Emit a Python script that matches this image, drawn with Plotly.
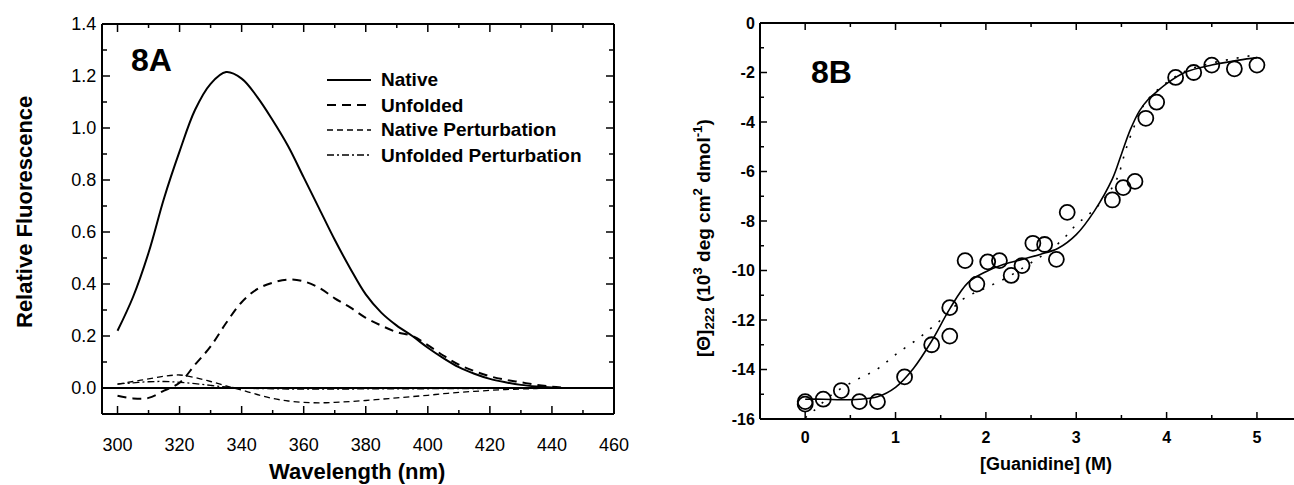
import plotly.graph_objects as go

# ---------------- Panel 8A data ----------------
wavelength = [300, 305, 310, 315, 320, 325, 330, 335, 340, 345, 350, 355, 360, 365, 370,
              375, 380, 385, 390, 395, 400, 405, 410, 415, 420, 425, 430, 435, 440, 445]
native = [0.22, 0.35, 0.52, 0.73, 0.91, 1.07, 1.17, 1.215, 1.19, 1.12, 1.03, 0.93, 0.81, 0.69, 0.57,
          0.46, 0.36, 0.29, 0.24, 0.20, 0.155, 0.115, 0.08, 0.055, 0.035, 0.022, 0.012, 0.006, 0.002, 0.0]
unfolded = [-0.03, -0.04, -0.038, -0.01, 0.02, 0.09, 0.16, 0.25, 0.33, 0.38, 0.405, 0.417, 0.41, 0.385, 0.345,
            0.31, 0.27, 0.24, 0.215, 0.20, 0.165, 0.125, 0.09, 0.065, 0.045, 0.032, 0.022, 0.012, 0.005, 0.0]
native_pert = [0.015, 0.025, 0.035, 0.045, 0.05, 0.04, 0.025, 0.008, -0.008, -0.025, -0.04, -0.05, -0.055, -0.057, -0.055,
               -0.052, -0.048, -0.043, -0.038, -0.033, -0.028, -0.022, -0.017, -0.013, -0.009, -0.006, -0.004, -0.002, -0.001, 0.0]
unfolded_pert = [0.015, 0.02, 0.024, 0.025, 0.022, 0.017, 0.01, 0.004, 0.0, -0.002, -0.003, -0.004, -0.004, -0.004, -0.004,
                 -0.004, -0.003, -0.003, -0.003, -0.003, -0.003, -0.002, -0.002, -0.002, -0.001, -0.001, -0.001, 0.0, 0.0, 0.0]
series_names_8a = ["Native", "Unfolded", "Native Perturbation", "Unfolded Perturbation"]

wl_major = [300, 320, 340, 360, 380, 400, 420, 440, 460]
wl_minor = [310, 330, 350, 370, 390, 410, 430, 450]
fl_major = [0.0, 0.2, 0.4, 0.6, 0.8, 1.0, 1.2, 1.4]
fl_minor = [0.1, 0.3, 0.5, 0.7, 0.9, 1.1, 1.3]
fl_labels = ["0.0", "0.2", "0.4", "0.6", "0.8", "1.0", "1.2", "1.4"]

# ---------------- Panel 8B data ----------------
gdn_conc = [0.0, 0.0, 0.2, 0.4, 0.6, 0.8, 1.1, 1.4, 1.6, 1.6, 1.77, 1.9, 2.02, 2.15, 2.28, 2.4,
            2.52, 2.65, 2.78, 2.9, 3.4, 3.52, 3.65, 3.77, 3.89, 4.1, 4.3, 4.5, 4.75, 5.0]
theta_obs = [-15.3, -15.4, -15.2, -14.85, -15.3, -15.3, -14.3, -13.0, -11.5, -12.65, -9.6, -10.55, -9.65, -9.6, -10.2, -9.8,
             -8.9, -8.95, -9.55, -7.65, -7.15, -6.65, -6.4, -3.85, -3.2, -2.2, -2.0, -1.7, -1.85, -1.7]

fit3_x = [0.0, 0.2, 0.4, 0.6, 0.8, 1.0, 1.2, 1.4, 1.6, 1.8, 2.0, 2.2, 2.4, 2.6, 2.8, 3.0, 3.2, 3.4,
          3.5, 3.6, 3.7, 3.8, 3.9, 4.0, 4.2, 4.5, 4.8, 5.0]
fit3_y = [-15.2, -15.2, -15.22, -15.2, -15.1, -14.72, -13.95, -12.85, -11.55, -10.5, -10.05, -9.75, -9.55, -9.35, -9.1,
          -8.55, -7.6, -6.3, -5.3, -4.3, -3.55, -3.07, -2.75, -2.45, -2.0, -1.7, -1.5, -1.4]

fit2_x = [0.0, 0.1, 0.3, 0.55, 0.8, 1.0, 1.25, 1.5, 1.75, 2.0, 2.25, 2.45, 2.65, 2.85, 3.0, 3.15, 3.3,
          3.45, 3.55, 3.65, 3.75, 3.9, 4.2, 4.5, 5.0]
fit2_y = [-15.95, -15.65, -15.0, -14.45, -13.98, -13.4, -12.75, -12.0, -11.15, -10.7, -10.25, -9.8, -9.33, -8.75,
          -8.15, -7.7, -7.15, -6.3, -5.1, -4.1, -3.3, -2.7, -1.96, -1.62, -1.28]

gdn_major = [0, 1, 2, 3, 4, 5]
gdn_minor = [0.5, 1.5, 2.5, 3.5, 4.5]
th_major = [-16, -14, -12, -10, -8, -6, -4, -2, 0]
th_minor = [-15, -13, -11, -9, -7, -5, -3, -1]
th_labels = ["-16", "-14", "-12", "-10", "-8", "-6", "-4", "-2", "0"]

W, H = 1294, 485
FONT = "Liberation Sans, Arial, sans-serif"

# plot-area geometry in pixels and axis ranges
A_L, A_R, A_T, A_B = 102, 614, 24, 414
B_L, B_R, B_T, B_B = 760, 1294, 23, 419
A_XR, A_YR = (295, 460), (-0.1, 1.4)
B_XR, B_YR = (-0.5, 5.41), (-16, 0)


def px_x(p):
    return p / W


def px_y(p):
    return 1 - p / H


def ax_px(v, rng, p0, p1):
    """pixel position of an axis value (for axis frame decorations)"""
    return p0 + (v - rng[0]) / (rng[1] - rng[0]) * (p1 - p0)


styles_8a = [
    dict(color="black", width=2),
    dict(color="black", width=2, dash="9px,6px"),
    dict(color="black", width=1.3, dash="6px,4px"),
    dict(color="black", width=1.3, dash="7px,3px,2px,3px"),
]

fig = go.Figure()
for name, ys, st in zip(series_names_8a, [native, unfolded, native_pert, unfolded_pert], styles_8a):
    fig.add_trace(go.Scatter(x=wavelength, y=ys, mode="lines", name=name, showlegend=False,
                             line=dict(shape="spline", **st), xaxis="x", yaxis="y"))

fig.add_trace(go.Scatter(x=fit2_x, y=fit2_y, mode="lines", showlegend=False,
                         line=dict(color="black", width=1.6, dash="2px,9px", shape="spline"), xaxis="x2", yaxis="y2"))
fig.add_trace(go.Scatter(x=fit3_x, y=fit3_y, mode="lines", showlegend=False,
                         line=dict(color="black", width=1.6, shape="spline"), xaxis="x2", yaxis="y2"))
fig.add_trace(go.Scatter(x=gdn_conc, y=theta_obs, mode="markers", showlegend=False,
                         marker=dict(symbol="circle-open", size=15, color="black", line=dict(width=1.8, color="black")),
                         xaxis="x2", yaxis="y2"))

CLEAR = "rgba(0,0,0,0)"
common = dict(showline=True, linecolor=CLEAR, linewidth=2, ticks="inside", tickcolor=CLEAR,
              tickwidth=1.5, ticklen=7, showgrid=False, automargin=False, tickmode="array")

fig.update_layout(
    template="none",
    width=W, height=H, margin=dict(l=0, r=0, t=0, b=0, autoexpand=False),
    paper_bgcolor="white", plot_bgcolor="white", showlegend=False,
    font=dict(family=FONT, color="black"),
    xaxis=dict(domain=[px_x(A_L), px_x(A_R)], range=list(A_XR), tickvals=wl_major,
               zeroline=False, tickfont=dict(size=18, family=FONT), ticklabelstandoff=13, anchor="y", **common),
    yaxis=dict(domain=[px_y(A_B), px_y(A_T)], range=list(A_YR), tickvals=fl_major, ticktext=fl_labels,
               tickfont=dict(size=18, family=FONT), anchor="x",
               zeroline=True, zerolinecolor="black", zerolinewidth=1.8, **common),
    xaxis2=dict(domain=[px_x(B_L), px_x(B_R)], range=list(B_XR), tickvals=gdn_major,
                zeroline=False, tickfont=dict(size=16, family=FONT, weight="bold"), ticklabelstandoff=3,
                anchor="y2", **common),
    yaxis2=dict(domain=[px_y(B_B), px_y(B_T)], range=list(B_YR), tickvals=th_major, ticktext=th_labels,
                zeroline=False, tickfont=dict(size=16, family=FONT, weight="bold"), anchor="x2", **common),
)

AX = dict(color="black", width=2)
TK = dict(color="black", width=1.5)


def seg(x0, y0, x1, y1, line):
    fig.add_shape(type="line", xref="paper", yref="paper", x0=px_x(x0), x1=px_x(x1), y0=px_y(y0), y1=px_y(y1),
                  line=line, layer="above")


# ---- frame and ticks, panel 8A ----
seg(A_L, A_T, A_R, A_T, AX)
seg(A_L, A_B, A_R, A_B, AX)
seg(A_L, A_T, A_L, A_B, AX)
seg(A_R, A_T, A_R, A_B, AX)
for vals, ln in ((wl_major, 8), (wl_minor, 4)):
    for v in vals:
        p = ax_px(v, A_XR, A_L, A_R)
        seg(p, A_B, p, A_B - ln, TK)
        seg(p, A_T, p, A_T + ln, TK)
for vals, ln in ((fl_major, 8), (fl_minor, 5)):
    for v in vals:
        p = ax_px(v, A_YR, A_B, A_T)
        seg(A_L, p, A_L + ln, p, TK)
        seg(A_R, p, A_R - ln, p, TK)

# ---- frame and ticks, panel 8B (its right edge lies outside the picture) ----
seg(B_L, B_T, B_R, B_T, AX)
seg(B_L, B_B, B_R, B_B, AX)
seg(B_L, B_T, B_L, B_B, AX)
for vals, ln in ((gdn_major, 7), (gdn_minor, 4)):
    for v in vals:
        p = ax_px(v, B_XR, B_L, B_R)
        seg(p, B_B, p, B_B - ln, TK)
        seg(p, B_T, p, B_T + ln, TK)
for vals, ln in ((th_major, 7), (th_minor, 4)):
    for v in vals:
        p = ax_px(v, B_YR, B_B, B_T)
        seg(B_L, p, B_L + ln, p, TK)

annotations = [
    ("<b>8A</b>", 151, 60, 32, 0),
    ("<b>8B</b>", 831, 72, 32, 0),
    ("<b>Relative Fluorescence</b>", 24, 212, 22, -90),
    ("<b>Wavelength (nm)</b>", 357, 471, 22, 0),
    ("<b>[Θ]<sub>222</sub> (10<sup>3</sup> deg cm<sup>2</sup> dmol<sup>-1</sup>)</b>", 703, 238, 19, -90),
    ("<b>[Guanidine] (M)</b>", 1046, 464, 18, 0),
]
for text, x, y, size, ang in annotations:
    fig.add_annotation(text=text, x=px_x(x), y=px_y(y), xref="paper", yref="paper", showarrow=False,
                       xanchor="center", yanchor="middle", textangle=ang, font=dict(size=size, family=FONT))

# legend block for panel 8A (samples + labels)
leg_y = [80, 105, 130, 155]
for name, st, yy in zip(series_names_8a, styles_8a, leg_y):
    seg(327, yy, 371, yy, st)
    fig.add_annotation(text=f"<b>{name}</b>", x=px_x(379), y=px_y(yy), xref="paper", yref="paper",
                       showarrow=False, xanchor="left", yanchor="middle", font=dict(size=19, family=FONT))

fig.write_html("out.html")
